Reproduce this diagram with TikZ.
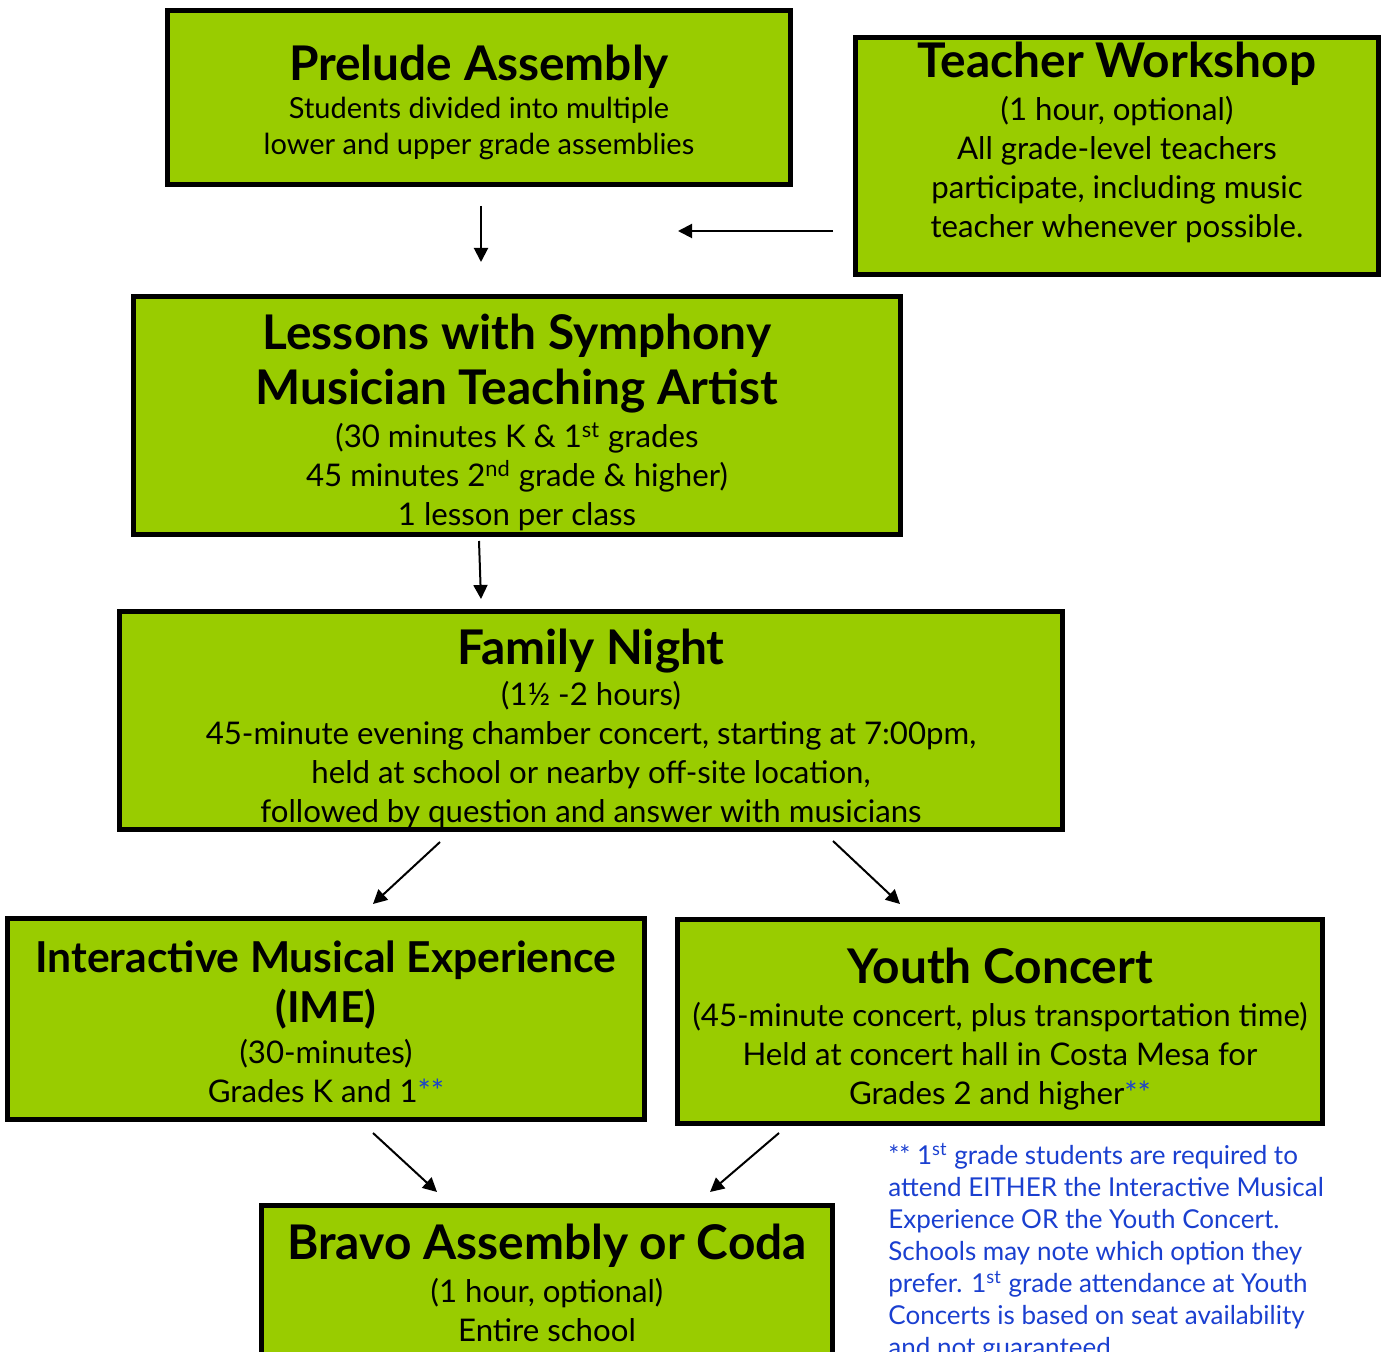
\documentclass[tikz,border=0pt]{standalone}
\usepackage{fontspec}
\setmainfont{Lato}
\usetikzlibrary{arrows.meta,positioning}
\definecolor{boxgreen}{HTML}{99CC00}
\definecolor{noteblue}{HTML}{1A3FD0}
\newcommand\ttl{\fontsize{23.9}{28}\selectfont\bfseries}
\newcommand\ttlsm{\fontsize{21.3}{26}\selectfont\bfseries}
\newcommand\bdy{\fontsize{15.6}{19.5}\selectfont}
\newcommand\bdysm{\fontsize{14.5}{18}\selectfont}
\newcommand\nt{\fontsize{13}{16}\selectfont}
\newcommand\stars{\textcolor{noteblue}{**}}
\newcommand\lift[1]{\rule{0pt}{#1}}
\tikzset{
  >={Triangle[length=7pt,width=7pt]},
  stage/.style={draw=black,line width=2.5pt,fill=boxgreen,align=center,font=\bdy,inner sep=0pt},
  arr/.style={->,line width=1pt},
  note/.style={text=noteblue,font=\nt,align=left,anchor=north west,inner sep=0pt},
}
\begin{document}
\begin{tikzpicture}[x=0.5pt,y=-0.5pt]
\useasboundingbox (0,0) rectangle (1381,1352);
\clip (0,0) rectangle (1381,1352);
% stages
\node[stage,font=\bdysm,minimum width=311.5pt,minimum height=87pt] (prelude) at (479,97.5)
  {{\ttl\lift{22.7pt}Prelude Assembly}\\[1pt]Students divided into multiple\\lower and upper grade assemblies};
\node[stage,minimum width=261.5pt,minimum height=118.5pt,text depth=16pt] (workshop) at (1117,156)
  {{\ttl Teacher Workshop}\\[2pt](1 hour, optional)\\All grade-level teachers\\participate, including music\\teacher whenever possible.};
\node[stage,minimum width=383.5pt,minimum height=119pt] (lessons) at (517,415.5)
  {{\ttl\lift{24.7pt}Lessons with Symphony}\\[5pt]{\ttl Musician Teaching Artist}\\[2pt](30 minutes K \& 1\textsuperscript{st} grades\\45 minutes 2\textsuperscript{nd} grade \& higher)\\1 lesson per class};
\node[stage,minimum width=471.5pt,minimum height=109pt] (family) at (591,720.5)
  {{\ttl\lift{25.7pt}Family Night}\\[1pt](1½ -2 hours)\\45-minute evening chamber concert, starting at 7:00pm,\\held at school or nearby off-site location,\\followed by question and answer with musicians};
\node[stage,minimum width=318.5pt,minimum height=100.5pt] (ime) at (326,1019)
  {{\ttlsm\lift{18.8pt}Interactive Musical Experience}\\[4pt]{\ttlsm (IME)}\\[1pt](30-minutes)\\Grades K and 1\stars};
\node[stage,minimum width=322.5pt,minimum height=102pt] (youth) at (1000,1021.5)
  {{\ttl\lift{25.7pt}Youth Concert}\\[2pt](45-minute concert, plus transportation time)\\Held at concert hall in Costa Mesa for\\Grades 2 and higher\stars};
\node[stage,minimum width=285.5pt,anchor=north,inner ysep=9.5pt,text depth=40pt] (bravo) at (547,1202.5)
  {{\ttl Bravo Assembly or Coda}\\[2pt](1 hour, optional)\\Entire school};
\node[note] (footnote) at (888,1143)
  {** 1\textsuperscript{st} grade students are required to\\attend EITHER the Interactive Musical\\Experience OR the Youth Concert.\\Schools may note which option they\\prefer. 1\textsuperscript{st} grade attendance at Youth\\Concerts is based on seat availability\\and not guaranteed.};
% arrow ends
\coordinate (p1) at (481,206); \coordinate (p2) at (481,262);
\coordinate (w1) at (833,231); \coordinate (w2) at (678,231);
\coordinate (l1) at (479,541); \coordinate (l2) at (481,599);
\coordinate (f1) at (440,842); \coordinate (f2) at (373,904);
\coordinate (f3) at (833,841); \coordinate (f4) at (900,904);
\coordinate (i1) at (373,1133); \coordinate (i2) at (437,1192);
\coordinate (y1) at (779,1133); \coordinate (y2) at (710,1192);
\draw[arr] (p1) -- (p2);
\draw[arr] (w1) -- (w2);
\draw[arr] (l1) -- (l2);
\draw[arr] (f1) -- (f2);
\draw[arr] (f3) -- (f4);
\draw[arr] (i1) -- (i2);
\draw[arr] (y1) -- (y2);
\end{tikzpicture}
\end{document}
